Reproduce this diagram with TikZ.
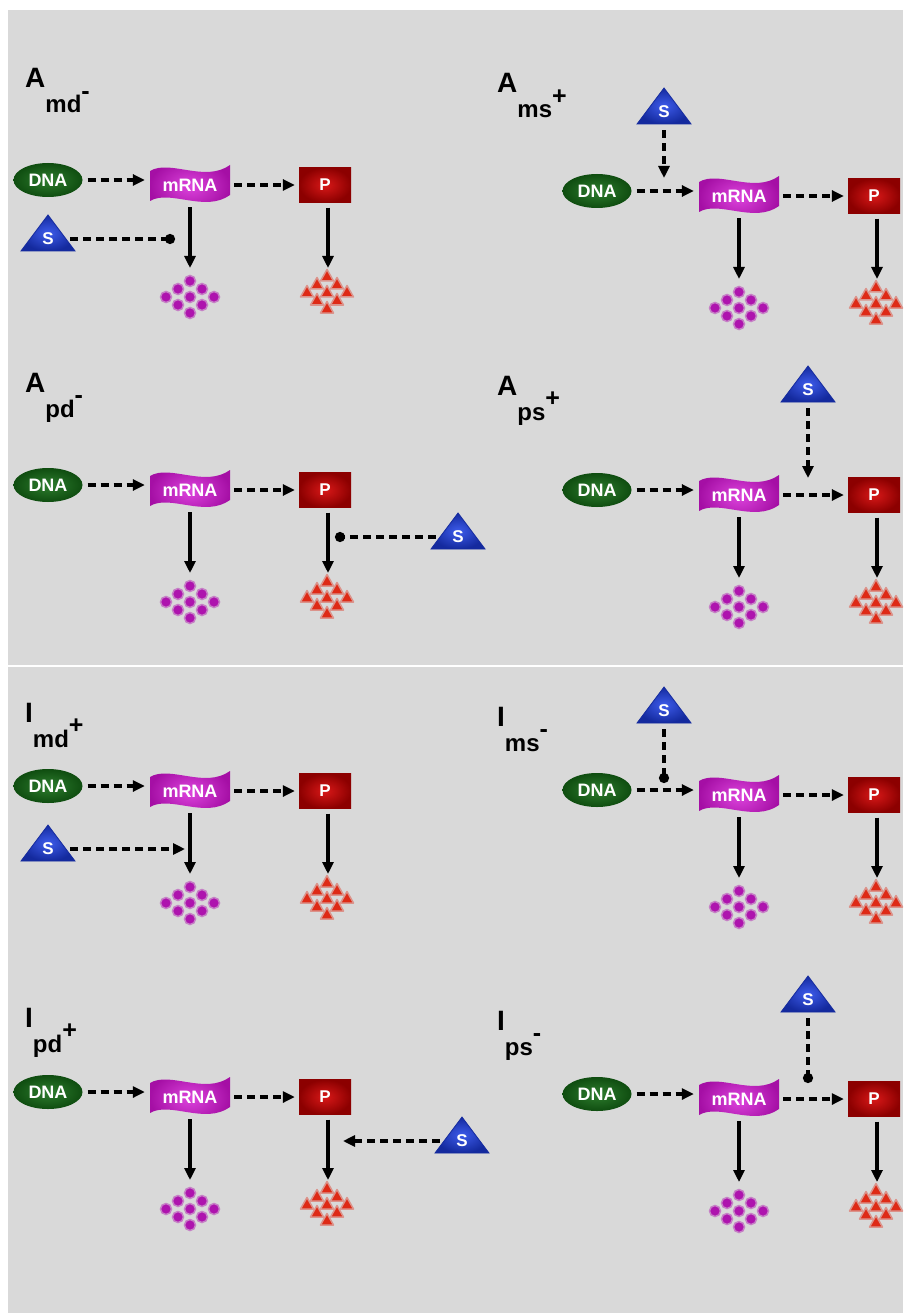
\documentclass[tikz,border=0pt]{standalone}
\usepackage{fontspec}
\setmainfont{Liberation Sans}
\usetikzlibrary{arrows.meta,shapes.geometric,calc}

\definecolor{bggray}{HTML}{D9D9D9}
\definecolor{dnaL}{HTML}{2E7D2E}
\definecolor{dnaD}{HTML}{0F4D10}
\definecolor{rnaL}{HTML}{DD44DD}
\definecolor{rnaD}{HTML}{A50FA5}
\definecolor{protL}{HTML}{D81818}
\definecolor{protD}{HTML}{8C0000}
\definecolor{sigL}{HTML}{3D5BEA}
\definecolor{sigD}{HTML}{142A9E}
\definecolor{dotC}{HTML}{AE14AE}
\definecolor{triC}{HTML}{DE2A16}

\tikzset{
  lbl/.style={anchor=base west, inner sep=0pt, font=\fontsize{28}{28}\selectfont\bfseries},
  dnanode/.style={ellipse, minimum width=69pt, minimum height=34pt, inner sep=0pt,
    inner color=dnaL, outer color=dnaD, text=white, font=\fontsize{18}{18}\selectfont\bfseries},
  rnafill/.style={inner color=rnaL, outer color=rnaD},
  rnanode/.style={rectangle, minimum width=80pt, minimum height=30pt, inner sep=0pt,
    text=white, font=\fontsize{18}{18}\selectfont\bfseries},
  protnode/.style={rectangle, minimum width=52pt, minimum height=35pt, inner sep=0pt,
    inner color=protL, outer color=protD, text=white, font=\fontsize{17}{17}\selectfont\bfseries},
  sigfill/.style={inner color=sigL, outer color=sigD, draw=sigD, line width=0.8pt},
  signode/.style={rectangle, minimum width=36pt, minimum height=24pt, inner sep=0pt,
    text=white, font=\fontsize{17}{17}\selectfont\bfseries},
  flow/.style={line width=3.4pt, -{Triangle[length=12pt,width=11pt]}},
  dflow/.style={flow, dash pattern=on 8pt off 5pt},
  block/.style={line width=3.4pt, dash pattern=on 8pt off 5pt, -{Circle[length=10pt]}},
  dotmark/.style={fill=dotC, draw=dotC!45!bggray, line width=1.5pt},
  trimark/.style={fill=triC, draw=triC!40!bggray, line width=1.5pt, line join=round},
}

% one gene: DNA -> mRNA -> P, with decay of mRNA and protein
\newcommand\gene[3]{% prefix, x and y of the DNA node
  \node[dnanode] (#1dna) at (#2,#3) {DNA};
  \path[rnafill, shift={(#2+142,#3+5)}]
    (-40,-14) .. controls (-20,-26) and (15,-2) .. (40,-20) -- (40,10)
    .. controls (15,28) and (-20,4) .. (-40,16) -- cycle;
  \node[rnanode] (#1rna) at (#2+142,#3+5) {mRNA};
  \node[protnode] (#1p) at (#2+277,#3+5) {P};
  \draw[dflow, shorten <=5pt, shorten >=5pt] (#1dna.east) -- (#1dna.east -| #1rna.west);
  \draw[dflow, shorten <=4pt, shorten >=4pt] (#1rna.east) -- (#1rna.east -| #1p.west);
  \coordinate (#1rnaend) at (#2+142,#3+88);
  \coordinate (#1pend) at (#2+280,#3+88);
  \draw[flow, shorten <=7pt] (#1rna.south) -- (#1rnaend);
  \draw[flow, shorten <=5pt] (#1p.south -| #1pend) -- (#1pend);
  \foreach \i in {0,1,2}{\foreach \j in {0,1,2}{
    \path[dotmark] (#2+142+12*\i-12*\j, #3+101+8*\i+8*\j) circle[radius=5.5pt];
    \path[trimark, shift={(#2+279+10*\i-10*\j, #3+96+8*\i+8*\j)}]
      (0,-6.5) -- (6.5,5) -- (-6.5,5) -- cycle;
  }}
}

% signal triangle, placed by its centroid
\newcommand\signal[3]{%
  \path[sigfill, shift={(#2,#3)}] (0,-24) -- (27,12) -- (-27,12) -- cycle;
  \node[signode] (#1) at (#2,#3) {S};
}

\newcommand\sublbl[2]{\raisebox{-25pt}{\fontsize{24}{24}\selectfont #1\raisebox{13.5pt}{\fontsize{25}{25}\selectfont #2}}}

\begin{document}
\begin{tikzpicture}[x=1pt,y=-1pt]
  \useasboundingbox (0,0) rectangle (903,1313);
  \fill[white] (0,0) rectangle (903,1313);
  \fill[bggray] (8,10) rectangle (903,1313);
  \draw[white, line width=2.5pt] (6,666) -- (903,666);

  % activation, mRNA decay
  \node[lbl] (amdlab) at (25,88) {A\sublbl{md}{-}};
  \gene{amd}{48}{180}
  \signal{amds}{48}{239}
  \coordinate (amdhit) at (175,239);
  \draw[block, shorten <=4pt] (amds.east) -- (amdhit);

  % activation, mRNA synthesis
  \node[lbl] (amslab) at (497,93) {A\sublbl{ms}{+}};
  \gene{ams}{597}{191}
  \signal{amss}{664}{112}
  \coordinate (amshit) at (664,178);
  \draw[dflow, shorten <=6pt] (amss.south) -- (amshit);

  % activation, protein decay
  \node[lbl] (apdlab) at (25,392) {A\sublbl{pd}{-}};
  \gene{apd}{48}{485}
  \signal{apds}{458}{537}
  \coordinate (apdhit) at (335,537);
  \draw[block, shorten <=4pt] (apds.west) -- (apdhit);

  % activation, protein synthesis
  \node[lbl] (apslab) at (497,395) {A\sublbl{ps}{+}};
  \gene{aps}{597}{490}
  \signal{apss}{808}{390}
  \coordinate (apshit) at (808,478);
  \draw[dflow, shorten <=6pt] (apss.south) -- (apshit);

  % inhibition, mRNA decay
  \node[lbl] (imdlab) at (25,722) {I\sublbl{md}{+}};
  \gene{imd}{48}{786}
  \signal{imds}{48}{849}
  \coordinate (imdhit) at (185,849);
  \draw[dflow, shorten <=4pt] (imds.east) -- (imdhit);

  % inhibition, mRNA synthesis
  \node[lbl] (imslab) at (497,726) {I\sublbl{ms}{-}};
  \gene{ims}{597}{790}
  \signal{imss}{664}{711}
  \coordinate (imshit) at (664,783);
  \draw[block, shorten <=6pt] (imss.south) -- (imshit);

  % inhibition, protein decay
  \node[lbl] (ipdlab) at (25,1027) {I\sublbl{pd}{+}};
  \gene{ipd}{48}{1092}
  \signal{ipds}{462}{1141}
  \coordinate (ipdhit) at (343,1141);
  \draw[dflow, shorten <=4pt] (ipds.west) -- (ipdhit);

  % inhibition, protein synthesis
  \node[lbl] (ipslab) at (497,1030) {I\sublbl{ps}{-}};
  \gene{ips}{597}{1094}
  \signal{ipss}{808}{1000}
  \coordinate (ipshit) at (808,1083);
  \draw[block, shorten <=6pt] (ipss.south) -- (ipshit);
\end{tikzpicture}
\end{document}
